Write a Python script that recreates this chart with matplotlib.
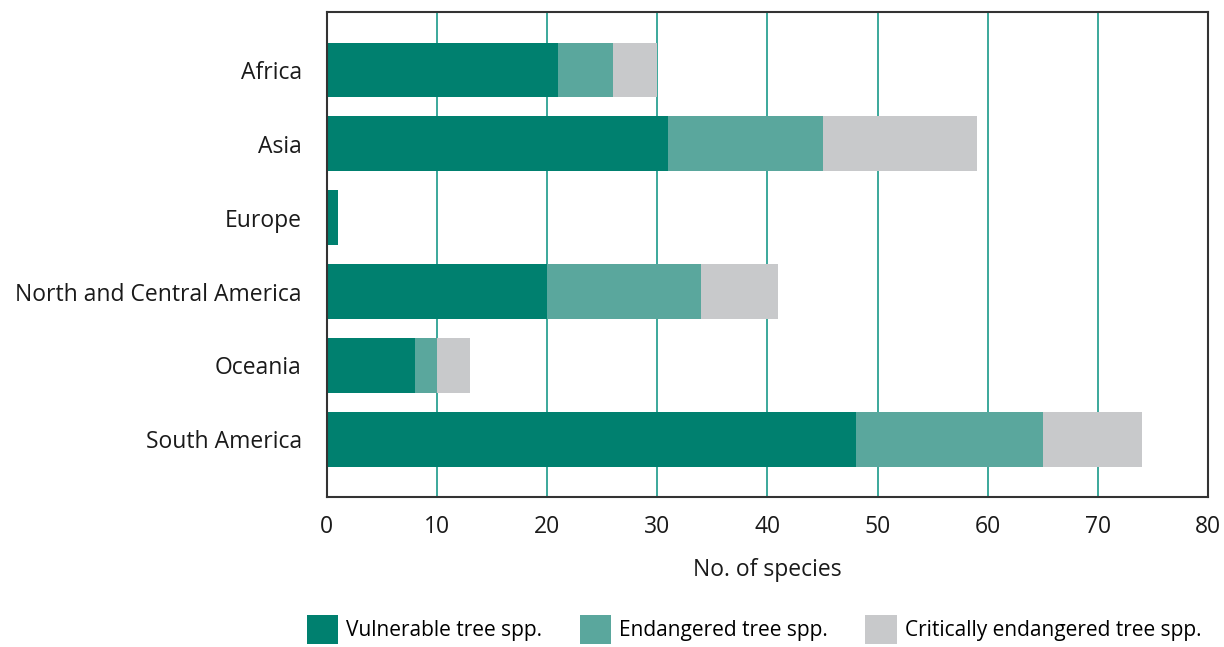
import matplotlib.pyplot as plt
import numpy as np

plt.rcParams['font.family'] = ['Open Sans', 'DejaVu Sans']

regions = ['Africa', 'Asia', 'Europe', 'North and Central America', 'Oceania', 'South America']
vulnerable = [21, 31, 1, 20, 8, 48]
endangered = [5, 14, 0, 14, 2, 17]
critical = [4, 14, 0, 7, 3, 9]
series_labels = ['Vulnerable tree spp.', 'Endangered tree spp.', 'Critically endangered tree spp.']
colors = ['#00806f', '#5aa79d', '#c8c9cb']

fig = plt.figure(figsize=(12.24, 6.47), dpi=100)
ax = fig.add_axes([0.267, 0.232, 0.72, 0.749])

y = np.arange(len(regions))
left = np.zeros(len(regions))
for vals, lab, col in zip([vulnerable, endangered, critical], series_labels, colors):
    ax.barh(y, vals, left=left, height=0.74, color=col, label=lab, zorder=2)
    left += np.array(vals)

ax.set_xlim(0, 80)
ax.set_ylim(5.78, -0.78)
ax.set_xticks(range(0, 81, 10))
ax.set_yticks(y)
ax.set_yticklabels(regions)
ax.tick_params(length=0, labelsize=16.5, colors='#1a1a1a')
ax.tick_params(axis='x', pad=13)
ax.tick_params(axis='y', pad=18)
ax.xaxis.grid(True, color='#1a9a8a', linewidth=1.2, zorder=1)
ax.set_axisbelow(True)
for s in ax.spines.values():
    s.set_color('#333333')
    s.set_linewidth(1.5)
ax.set_xlabel('No. of species', fontsize=16.5, labelpad=14, color='#1a1a1a')

fig.legend(loc='lower right', bbox_to_anchor=(0.997, -0.025), ncol=3, frameon=False,
           fontsize=15, handlelength=1.5, handleheight=1.8, columnspacing=1.8,
           handletextpad=0.4)

fig.savefig('out.png', dpi=100, facecolor='white')
